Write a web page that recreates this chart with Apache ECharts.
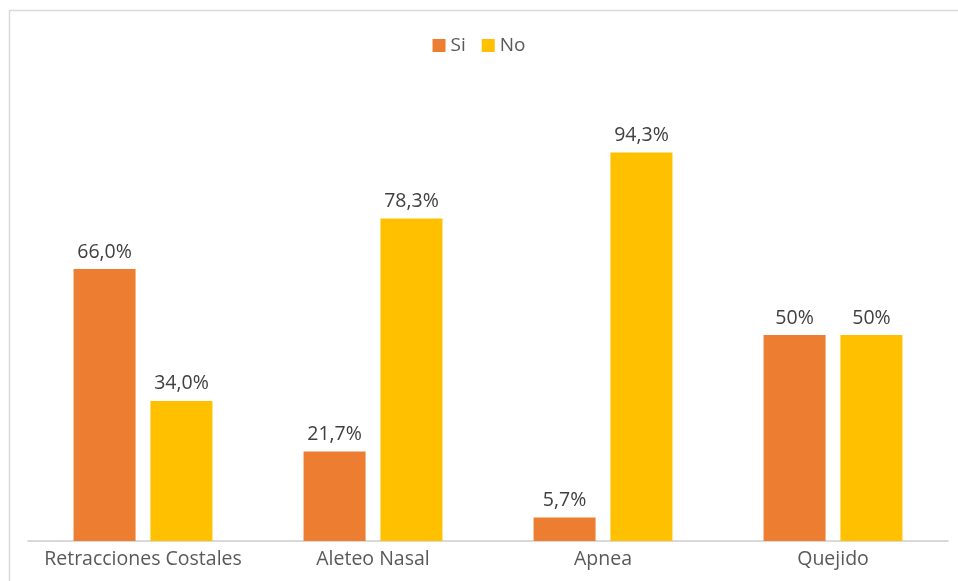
<!DOCTYPE html>
<html>
<head>
<meta charset="utf-8">
<script src="https://cdn.jsdelivr.net/npm/echarts@6/dist/echarts.min.js"></script>
<style>
  html, body { margin: 0; padding: 0; background: #fff; }
  #main { width: 958px; height: 581px; }
</style>
</head>
<body>
<div id="main"></div>
<script>
// datos
var categorias = ["Retracciones Costales", "Aleteo Nasal", "Apnea", "Quejido"];
var valoresSi = [66.0, 21.7, 5.7, 50];
var valoresNo = [34.0, 78.3, 94.3, 50];
var etiquetasSi = ["66,0%", "21,7%", "5,7%", "50%"];
var etiquetasNo = ["34,0%", "78,3%", "94,3%", "50%"];

var chart = echarts.init(document.getElementById("main"));

var fuente = "'Open Sans', sans-serif";

var option = {
  animation: false,
  textStyle: { fontFamily: fuente },
  graphic: [
    {
      // marco del gráfico
      type: "rect",
      shape: { x: 9.5, y: 10.5, width: 960, height: 600 },
      style: { fill: "none", stroke: "#d9d9d9", lineWidth: 1.5 },
      silent: true
    }
  ],
  legend: {
    top: 31,
    left: "center",
    itemWidth: 13,
    itemHeight: 13,
    itemGap: 16,
    icon: "rect",
    textStyle: { fontSize: 19, color: "#595959", fontFamily: fuente },
    data: ["Si", "No"]
  },
  grid: { left: 28, right: 10, top: 129, bottom: 40 },
  xAxis: {
    type: "category",
    data: categorias,
    axisTick: { show: false },
    axisLine: { lineStyle: { color: "#d9d9d9", width: 2 } },
    axisLabel: { interval: 0, fontSize: 19.5, color: "#595959", margin: 8, fontFamily: fuente }
  },
  yAxis: {
    type: "value",
    min: 0,
    max: 100,
    show: false,
    splitLine: { show: false }
  },
  series: [
    {
      name: "Si",
      type: "bar",
      data: valoresSi,
      barWidth: 62,
      barGap: "24%",
      itemStyle: { color: "#ed7d31" },
      label: {
        show: true,
        position: "top",
        distance: 7,
        fontSize: 19.5,
        color: "#404040",
        fontFamily: fuente,
        formatter: function (p) { return etiquetasSi[p.dataIndex]; }
      }
    },
    {
      name: "No",
      type: "bar",
      data: valoresNo,
      barWidth: 62,
      barGap: "24%",
      itemStyle: { color: "#ffc000" },
      label: {
        show: true,
        position: "top",
        distance: 7,
        fontSize: 19.5,
        color: "#404040",
        fontFamily: fuente,
        formatter: function (p) { return etiquetasNo[p.dataIndex]; }
      }
    }
  ]
};

chart.setOption(option);
</script>
</body>
</html>
